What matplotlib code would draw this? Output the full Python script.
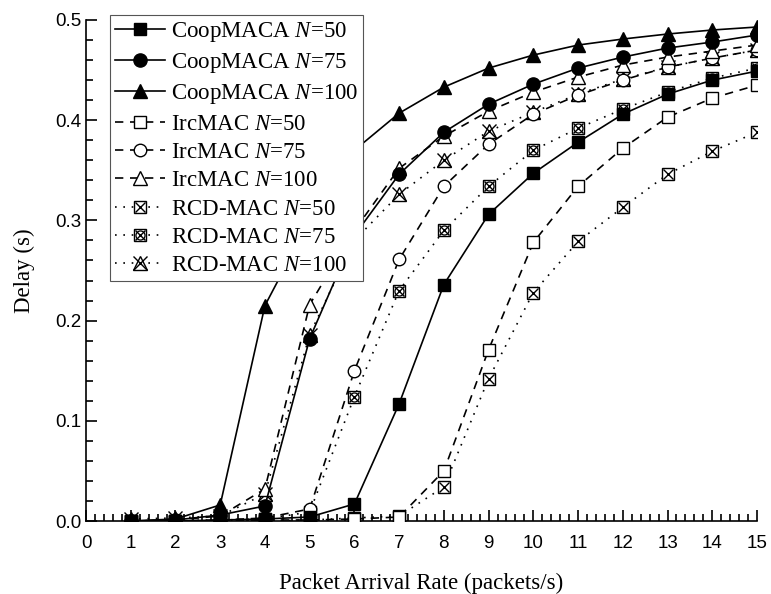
import matplotlib
matplotlib.use("Agg")
import matplotlib.pyplot as plt
from matplotlib.ticker import MultipleLocator, AutoMinorLocator
from matplotlib.legend_handler import HandlerTuple

rate = list(range(1, 16))
coop50 = [0.0, 0.0, 0.001, 0.002, 0.004, 0.017, 0.117, 0.236, 0.306, 0.347, 0.378, 0.406, 0.426, 0.440, 0.449]
coop75 = [0.0, 0.001, 0.006, 0.015, 0.182, 0.285, 0.346, 0.388, 0.416, 0.436, 0.452, 0.463, 0.472, 0.478, 0.485]
coop100 = [0.0, 0.002, 0.016, 0.215, 0.300, 0.370, 0.407, 0.433, 0.452, 0.465, 0.475, 0.481, 0.486, 0.490, 0.493]
irc50 = [0.0, 0.0, 0.0, 0.001, 0.001, 0.002, 0.004, 0.050, 0.171, 0.278, 0.334, 0.372, 0.403, 0.422, 0.435]
irc75 = [0.0, 0.0, 0.001, 0.003, 0.012, 0.150, 0.261, 0.334, 0.376, 0.406, 0.425, 0.440, 0.453, 0.462, 0.470]
irc100 = [0.0, 0.001, 0.005, 0.032, 0.216, 0.290, 0.352, 0.384, 0.409, 0.428, 0.443, 0.455, 0.463, 0.469, 0.475]
rcd50 = [0.0, 0.0, 0.0, 0.0, 0.001, 0.003, 0.005, 0.034, 0.142, 0.228, 0.279, 0.313, 0.346, 0.369, 0.388]
rcd75 = [0.0, 0.0, 0.001, 0.002, 0.009, 0.124, 0.230, 0.290, 0.334, 0.370, 0.392, 0.411, 0.428, 0.442, 0.452]
rcd100 = [0.002, 0.003, 0.005, 0.027, 0.186, 0.280, 0.326, 0.360, 0.389, 0.408, 0.426, 0.441, 0.453, 0.462, 0.470]

labels = ["CoopMACA $N$=50", "CoopMACA $N$=75", "CoopMACA $N$=100",
          "IrcMAC $N$=50", "IrcMAC $N$=75", "IrcMAC $N$=100",
          "RCD-MAC $N$=50", "RCD-MAC $N$=75", "RCD-MAC $N$=100"]

plt.rcParams['mathtext.fontset'] = 'custom'
plt.rcParams['mathtext.it'] = 'Liberation Serif:italic'
plt.rcParams['mathtext.rm'] = 'Liberation Serif'

fig = plt.figure(figsize=(7.71, 5.94), dpi=100)
ax = fig.add_axes([86/771, 1-521/594, (757-86)/771, (521-20)/594])

lw = 1.2
dash = (0, (5, 4))
dot = (0, (1, 4))
k = 'black'
handles = []

h, = ax.plot(rate, coop50, '-', color=k, lw=lw, marker='s', ms=8.5, mfc=k, mec=k, zorder=5)
handles.append(h)
h, = ax.plot(rate, coop75, '-', color=k, lw=lw, marker='o', ms=9.5, mfc=k, mec=k, zorder=5)
handles.append(h)
h, = ax.plot(rate, coop100, '-', color=k, lw=lw, marker='^', ms=10.5, mfc=k, mec=k, zorder=5)
handles.append(h)

h, = ax.plot(rate, irc50, linestyle=dash, color=k, lw=lw, marker='s', ms=8.5, mfc='white', mec=k, mew=1.0, zorder=4)
handles.append(h)
h, = ax.plot(rate, irc75, linestyle=dash, color=k, lw=lw, marker='o', ms=9, mfc='white', mec=k, mew=1.0, zorder=4)
handles.append(h)
h, = ax.plot(rate, irc100, linestyle=dash, color=k, lw=lw, marker='^', ms=10, mfc='white', mec=k, mew=1.0, zorder=4)
handles.append(h)

h1, = ax.plot(rate, rcd50, linestyle=dot, color=k, lw=lw, marker='s', ms=8.5, mfc='white', mec=k, mew=1.0, zorder=3)
h2, = ax.plot(rate, rcd50, linestyle='none', marker='x', ms=6.5, mec=k, mew=1.0, zorder=3)
handles.append((h1, h2))
h1, = ax.plot(rate, rcd75, linestyle=dot, color=k, lw=lw, marker='s', ms=8.5, mfc='white', mec=k, mew=1.0, zorder=3)
h2, = ax.plot(rate, rcd75, linestyle='none', marker='o', ms=6.5, mfc='none', mec=k, mew=0.9, zorder=3)
h3, = ax.plot(rate, rcd75, linestyle='none', marker='x', ms=6.5, mec=k, mew=1.0, zorder=3)
handles.append((h1, h2, h3))
h1, = ax.plot(rate, rcd100, linestyle=dot, color=k, lw=lw, marker='^', ms=10, mfc='white', mec=k, mew=1.0, zorder=3)
h2, = ax.plot(rate, rcd100, linestyle='none', marker='x', ms=10, mec=k, mew=1.0, zorder=3)
handles.append((h1, h2))

ax.set_xlim(0, 15)
ax.set_ylim(0, 0.5)
ax.xaxis.set_major_locator(MultipleLocator(1))
ax.xaxis.set_minor_locator(AutoMinorLocator(5))
ax.yaxis.set_major_locator(MultipleLocator(0.1))
ax.yaxis.set_minor_locator(AutoMinorLocator(5))
ax.yaxis.set_major_formatter(matplotlib.ticker.FormatStrFormatter('%.1f'))
ax.tick_params(which='both', direction='in', width=1.2, labelsize=13.5)
ax.tick_params(which='major', length=8)
ax.tick_params(which='minor', length=5)
ax.tick_params(axis='x', pad=10)
for lab in ax.get_xticklabels() + ax.get_yticklabels():
    lab.set_fontfamily('Liberation Sans')
for s in ['top', 'right']:
    ax.spines[s].set_visible(False)
for s in ['left', 'bottom']:
    ax.spines[s].set_linewidth(1.2)

ax.set_xlabel('Packet Arrival Rate (packets/s)', fontfamily='Liberation Serif', fontsize=16.5, labelpad=15)
ax.set_ylabel('Delay (s)', fontfamily='Liberation Serif', fontsize=16.5, labelpad=14)

leg = ax.legend(handles, labels, loc='upper left', bbox_to_anchor=(0.036, 1.01),
                borderaxespad=0, prop={'family': 'Liberation Serif', 'size': 16.5},
                handler_map={tuple: HandlerTuple(ndivide=1)},
                handlelength=2.2, handletextpad=0.25, labelspacing=0.32,
                borderpad=0.2, fancybox=False, edgecolor='#555555', framealpha=1)
leg.get_frame().set_linewidth(0.8)
leg.set_zorder(10)

fig.savefig('out.png', dpi=100)
